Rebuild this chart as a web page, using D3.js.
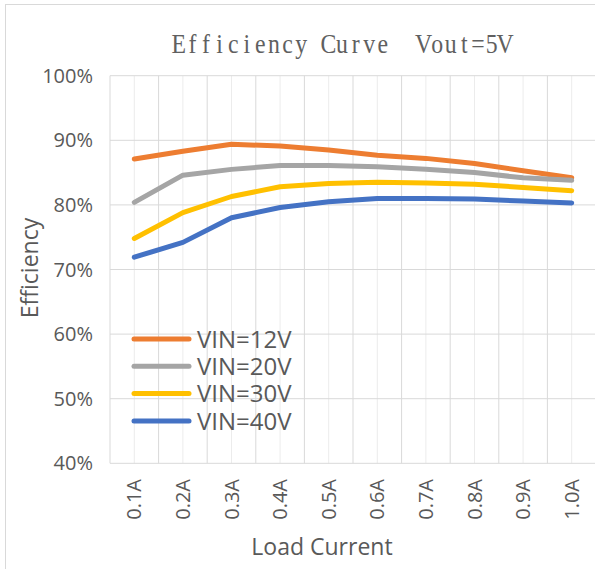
<!DOCTYPE html>
<html>
<head>
<meta charset="utf-8">
<script src="https://cdn.jsdelivr.net/npm/d3@7"></script>
<style>
  body { margin: 0; background: #fff; }
  text { font-family: "Open Sans", sans-serif; fill: #595959; }
</style>
</head>
<body>
<div id="chart"></div>
<script>
// chart data
var categories = ["0.1A", "0.2A", "0.3A", "0.4A", "0.5A", "0.6A", "0.7A", "0.8A", "0.9A", "1.0A"];
var vin12 = [87.1, 88.3, 89.4, 89.1, 88.5, 87.7, 87.2, 86.4, 85.3, 84.2];
var vin20 = [80.4, 84.6, 85.5, 86.1, 86.1, 85.9, 85.5, 85.0, 84.2, 83.8];
var vin30 = [74.8, 78.8, 81.3, 82.8, 83.3, 83.5, 83.4, 83.2, 82.7, 82.2];
var vin40 = [71.9, 74.2, 78.0, 79.6, 80.5, 81.0, 81.0, 80.9, 80.6, 80.3];
var seriesNames = ["VIN=12V", "VIN=20V", "VIN=30V", "VIN=40V"];
var yTicks = [40, 50, 60, 70, 80, 90, 100];
var titleText = "Efficiency Curve  Vout=5V";

var colors = ["#ED7D31", "#A5A5A5", "#FFC000", "#4472C4"];
var series = [vin12, vin20, vin30, vin40];

var W = 595, H = 569;
var plot = {left: 110, right: 596, top: 75.7, bottom: 463.3};

var svg = d3.select("#chart").append("svg")
  .attr("width", W).attr("height", H);

// chart border
svg.append("rect")
  .attr("x", 5.5).attr("y", 4.5)
  .attr("width", 600).attr("height", 580)
  .attr("fill", "none").attr("stroke", "#d9d9d9");

var x = d3.scaleBand().domain(categories).range([plot.left, plot.right]).padding(0);
var y = d3.scaleLinear().domain([40, 100]).range([plot.bottom, plot.top]);
var cx = function(c) { return x(c) + x.bandwidth() / 2; };

// minor vertical grid (category centres)
svg.append("g").selectAll("line")
  .data(categories).enter().append("line")
  .attr("x1", d => cx(d)).attr("x2", d => cx(d))
  .attr("y1", plot.top).attr("y2", plot.bottom)
  .attr("stroke", "#ececec").attr("stroke-width", 1);

// major vertical grid (category edges)
var edges = categories.map(d => x(d)).concat([plot.right]);
svg.append("g").selectAll("line")
  .data(edges).enter().append("line")
  .attr("x1", d => d).attr("x2", d => d)
  .attr("y1", plot.top).attr("y2", plot.bottom)
  .attr("stroke", "#d9d9d9").attr("stroke-width", 1);

// horizontal grid
svg.append("g").selectAll("line")
  .data(yTicks).enter().append("line")
  .attr("x1", plot.left).attr("x2", plot.right)
  .attr("y1", d => y(d)).attr("y2", d => y(d))
  .attr("stroke", "#d9d9d9").attr("stroke-width", 1);

// y tick labels
svg.append("g").selectAll("text")
  .data(yTicks).enter().append("text")
  .attr("x", 93).attr("y", d => y(d))
  .attr("dy", "0.35em")
  .attr("text-anchor", "end")
  .style("font-size", "20px")
  .text(d => d + "%");

// x tick labels (rotated)
svg.append("g").selectAll("text")
  .data(categories).enter().append("text")
  .attr("transform", d => "translate(" + cx(d) + ",479) rotate(-90)")
  .attr("dy", "0.35em")
  .attr("text-anchor", "end")
  .style("font-size", "20px")
  .text(d => d);

// lines
var line = d3.line()
  .x((d, i) => cx(categories[i]))
  .y(d => y(d));

svg.append("g").selectAll("path")
  .data(series).enter().append("path")
  .attr("d", d => line(d))
  .attr("fill", "none")
  .attr("stroke", (d, i) => colors[i])
  .attr("stroke-width", 5)
  .attr("stroke-linejoin", "round")
  .attr("stroke-linecap", "round");

// title - fixed-width cells to mimic the half-width CJK font
var cell = 13.6, sx = 0.88;
var titleFont = "'Liberation Serif', 'DejaVu Serif', serif";
var titleG = svg.append("g").attr("transform", "translate(172,53.3) scale(" + sx + ",1)");
var chars = titleText.split("");
var probe = titleG.append("text")
  .style("font-family", titleFont)
  .style("font-size", "27px");
var xs = chars.map(function(c, i) {
  probe.text(c === " " ? "" : c);
  var w = c === " " ? 0 : probe.node().getComputedTextLength();
  return (i * cell) / sx + (cell / sx - w) / 2;
});
probe.remove();
titleG.append("text")
  .style("font-family", titleFont)
  .style("font-size", "27px")
  .style("fill", "#606060")
  .selectAll("tspan")
  .data(chars.map((c, i) => ({c: c, x: xs[i]})).filter(d => d.c !== " "))
  .enter().append("tspan")
  .attr("x", d => d.x)
  .text(d => d.c);

// axis titles
svg.append("text")
  .attr("x", 322).attr("y", 555)
  .attr("text-anchor", "middle")
  .style("font-size", "23px")
  .text("Load Current");

svg.append("text")
  .attr("transform", "translate(30,268) rotate(-90)")
  .attr("dy", "0.35em")
  .attr("text-anchor", "middle")
  .style("font-size", "23px")
  .text("Efficiency");

// legend
var leg = svg.append("g").selectAll("g")
  .data(seriesNames).enter().append("g")
  .attr("transform", (d, i) => "translate(0," + (339 + i * 27.3) + ")");
leg.append("line")
  .attr("x1", 134).attr("x2", 189)
  .attr("stroke", (d, i) => colors[i])
  .attr("stroke-width", 5)
  .attr("stroke-linecap", "round");
leg.append("text")
  .attr("x", 197).attr("dy", "0.36em")
  .style("font-size", "24px")
  .text(d => d);
</script>
</body>
</html>
